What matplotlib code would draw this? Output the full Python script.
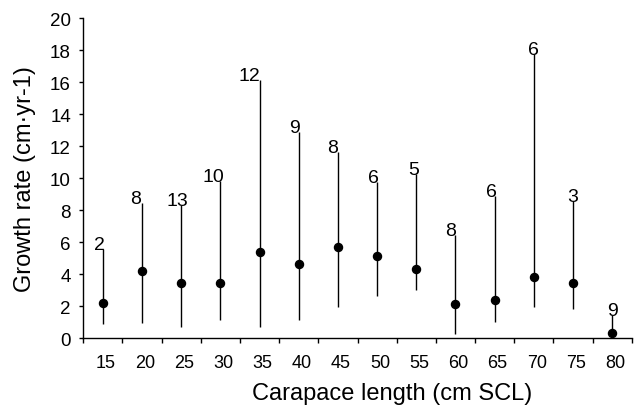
import matplotlib
matplotlib.use("Agg")
import matplotlib.pyplot as plt
import matplotlib.transforms as mtransforms
import numpy as np

plt.rcParams['font.family'] = ['Liberation Sans', 'DejaVu Sans']

categories = ['15', '20', '25', '30', '35', '40', '45', '50', '55', '60', '65', '70', '75', '80']
means = [2.19, 4.23, 3.44, 3.44, 5.37, 4.62, 5.73, 5.14, 4.33, 2.14, 2.37, 3.83, 3.48, 0.31]
lows = [0.88, 0.94, 0.73, 1.14, 0.73, 1.14, 1.94, 2.66, 3.02, 0.25, 1.04, 1.98, 1.83, 0.25]
highs = [5.6, 8.45, 8.35, 9.8, 16.15, 12.87, 11.66, 9.75, 10.27, 6.46, 8.91, 17.77, 8.55, 1.45]
counts = [2, 8, 13, 10, 12, 9, 8, 6, 5, 8, 6, 6, 3, 9]

# label horizontal nudges (pixels), style only
label_dx_px = [-3.6, -6.9, -4.2, -7.2, -10, -4.3, -5.8, -3.9, -3, -4.4, -3.5, 0, 0, 0]

DPI = 100
fig = plt.figure(figsize=(6.38, 4.10), dpi=DPI)
ax = fig.add_axes([83.3 / 638, 1 - 339.3 / 410, (631.7 - 83.3) / 638, (339.3 - 19) / 410])

x = np.arange(len(categories))
ax.vlines(x, lows, highs, colors='black', linewidth=1.0)
ax.plot(x, means, 'o', color='black', markersize=5.8, zorder=3)

for xi, top, n, dx in zip(x, highs, counts, label_dx_px):
    off = mtransforms.ScaledTranslation(dx / DPI, 0, fig.dpi_scale_trans)
    ax.text(xi, top, str(n), ha='center', va='baseline', fontsize=14,
            transform=ax.transData + off)

ax.set_xlim(-0.5, len(categories) - 0.5)
ax.set_ylim(0, 20)
ax.set_yticks(np.arange(0, 21, 2))
ax.set_xticks(x)
ax.set_xticklabels(categories)
ax.set_xticks(np.arange(-0.5, len(categories), 1.0), minor=True)
ax.tick_params(axis='x', which='major', length=0, pad=11, labelsize=13)
ax.tick_params(axis='x', which='minor', length=3.3, width=1.0, direction='out')
ax.tick_params(axis='y', length=3.1, width=1.0, pad=5.8, labelsize=13.5)

for lbl in ax.get_xticklabels():
    lbl.set_transform(lbl.get_transform() +
                      mtransforms.ScaledTranslation(3 / DPI, 0, fig.dpi_scale_trans))

for s in ['top', 'right']:
    ax.spines[s].set_visible(False)
for s in ['left', 'bottom']:
    ax.spines[s].set_linewidth(1.0)

fig.text(391.7 / 638, 1 - 400 / 410, 'Carapace length (cm SCL)', ha='center',
         va='baseline', fontsize=17)
fig.text(25 / 638, 1 - 179 / 410, 'Growth rate (cm\u00b7yr-1)', ha='center',
         va='center', rotation=90, fontsize=17)

fig.savefig('out.png', dpi=DPI)
